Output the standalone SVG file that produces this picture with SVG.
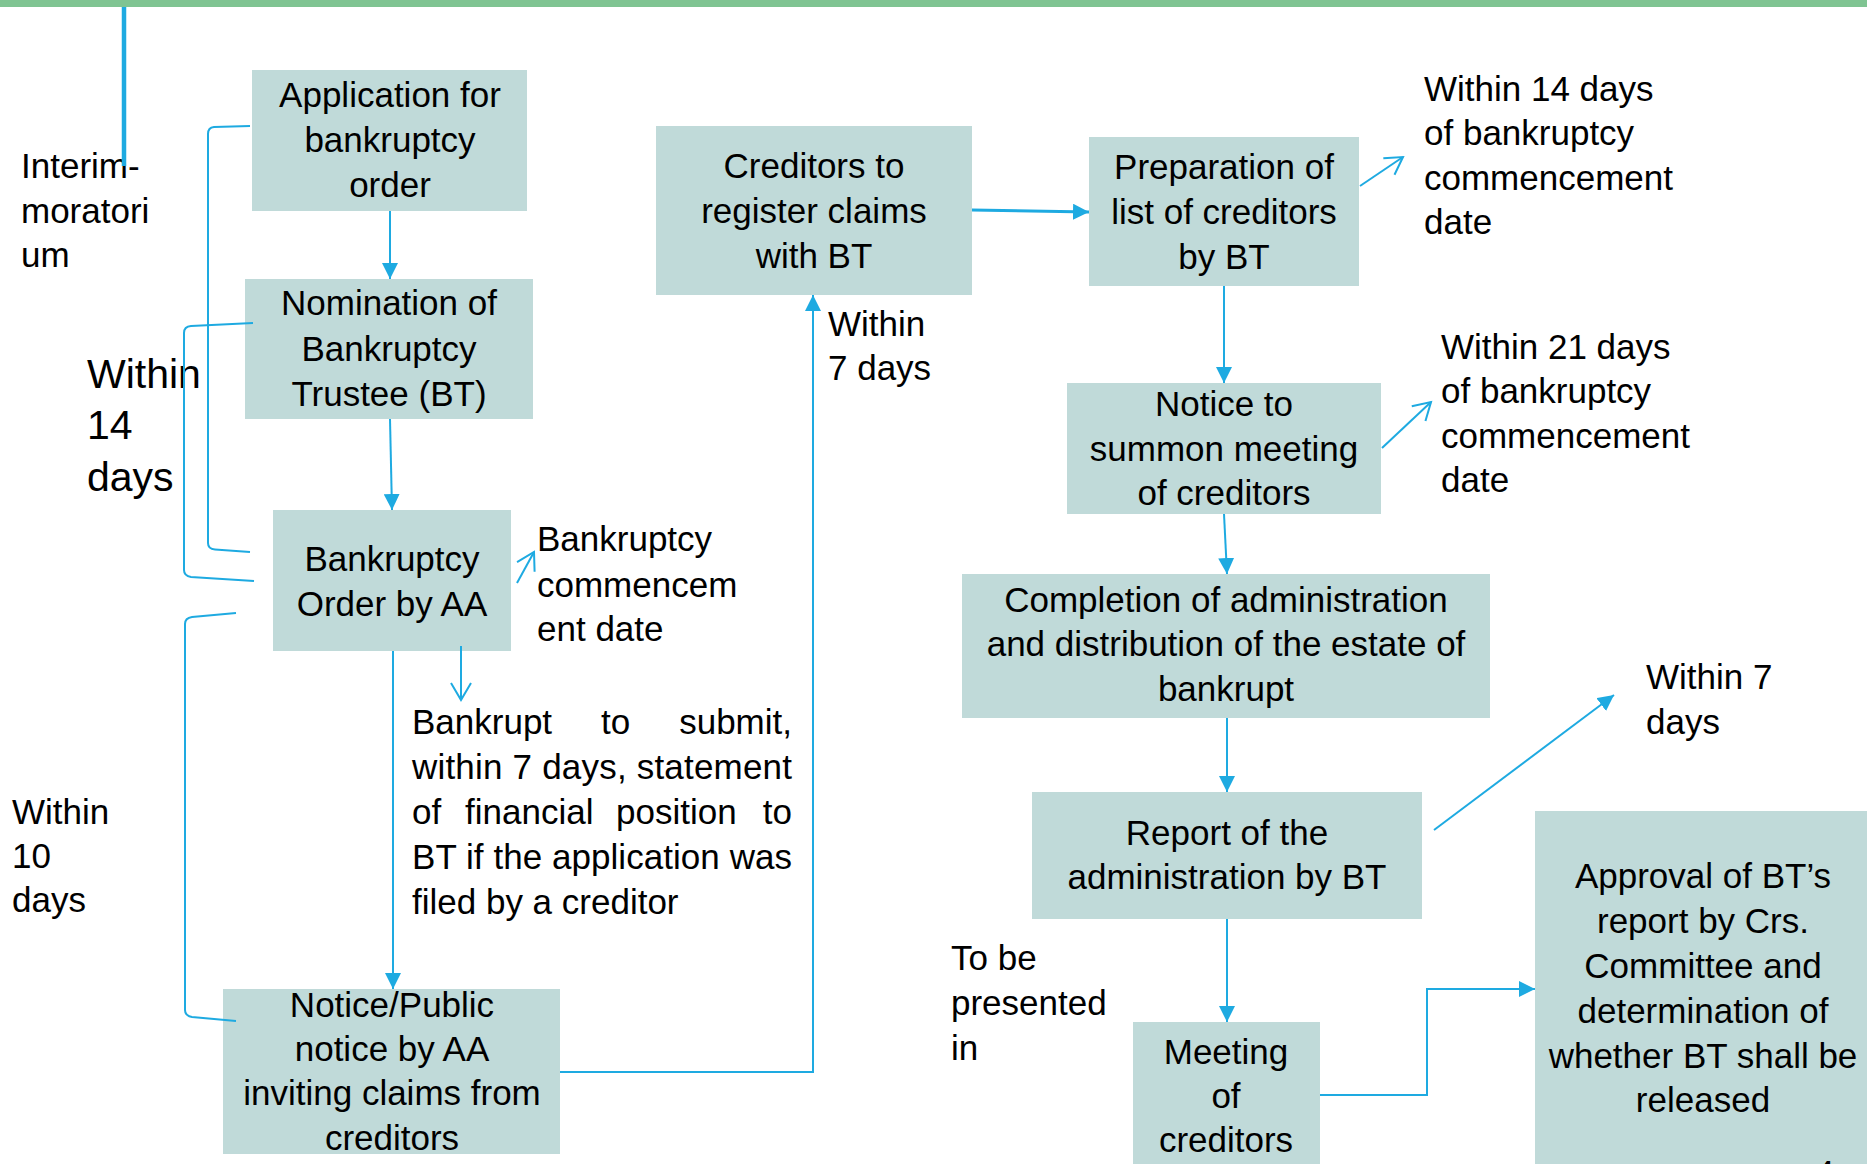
<svg xmlns="http://www.w3.org/2000/svg" width="1867" height="1164" viewBox="0 0 1867 1164">
  <style>
    .box { fill: #C0DAD9; }
    .t { font-family: "Liberation Sans", Arial, sans-serif; font-size: 35px; fill: #000; }
    .big { font-size: 41px; }
    .c { text-anchor: middle; }
    .e { text-anchor: end; }
    .ln { fill: none; stroke: #1EAAE1; stroke-width: 2; }
  </style>
  <defs>
    <marker id="ah" viewBox="0 0 16 16" refX="16" refY="8" markerWidth="16" markerHeight="16" markerUnits="userSpaceOnUse" orient="auto">
      <path d="M0,0 L16,8 L0,16 z" fill="#1EAAE1"/>
    </marker>
    <marker id="oa" viewBox="-2 -2 22 24" refX="17" refY="10" markerWidth="22" markerHeight="24" markerUnits="userSpaceOnUse" orient="auto">
      <path d="M0,0 L17,10 L0,20" fill="none" stroke="#1EAAE1" stroke-width="2"/>
    </marker>
  </defs>

  <!-- header band -->
  <rect x="0" y="0" width="1867" height="7" fill="#7FC492"/>

  <!-- process steps -->
  <g id="n1">
    <rect class="box" x="252" y="70" width="275" height="141"/>
    <text class="t c"><tspan x="390" y="107">Application for</tspan><tspan x="390" y="152">bankruptcy</tspan><tspan x="390" y="197">order</tspan></text>
  </g>
  <g id="n2">
    <rect class="box" x="245" y="279" width="288" height="140"/>
    <text class="t c"><tspan x="389" y="315">Nomination of</tspan><tspan x="389" y="361">Bankruptcy</tspan><tspan x="389" y="406">Trustee (BT)</tspan></text>
  </g>
  <g id="n3">
    <rect class="box" x="273" y="510" width="238" height="141"/>
    <text class="t c"><tspan x="392" y="571">Bankruptcy</tspan><tspan x="392" y="616">Order by AA</tspan></text>
  </g>
  <g id="n4">
    <rect class="box" x="223" y="989" width="337" height="165"/>
    <text class="t c"><tspan x="392" y="1017">Notice/Public</tspan><tspan x="392" y="1061">notice by AA</tspan><tspan x="392" y="1105">inviting claims from</tspan><tspan x="392" y="1150">creditors</tspan></text>
  </g>
  <g id="n5">
    <rect class="box" x="656" y="126" width="316" height="169"/>
    <text class="t c"><tspan x="814" y="178">Creditors to</tspan><tspan x="814" y="223">register claims</tspan><tspan x="814" y="268">with BT</tspan></text>
  </g>
  <g id="n6">
    <rect class="box" x="1089" y="137" width="270" height="149"/>
    <text class="t c"><tspan x="1224" y="179">Preparation of</tspan><tspan x="1224" y="224">list of creditors</tspan><tspan x="1224" y="269">by BT</tspan></text>
  </g>
  <g id="n7">
    <rect class="box" x="1067" y="383" width="314" height="131"/>
    <text class="t c"><tspan x="1224" y="416">Notice to</tspan><tspan x="1224" y="461">summon meeting</tspan><tspan x="1224" y="505">of creditors</tspan></text>
  </g>
  <g id="n8">
    <rect class="box" x="962" y="574" width="528" height="144"/>
    <text class="t c"><tspan x="1226" y="612">Completion of administration</tspan><tspan x="1226" y="656">and distribution of the estate of</tspan><tspan x="1226" y="701">bankrupt</tspan></text>
  </g>
  <g id="n9">
    <rect class="box" x="1032" y="792" width="390" height="127"/>
    <text class="t c"><tspan x="1227" y="845">Report of the</tspan><tspan x="1227" y="889">administration by BT</tspan></text>
  </g>
  <g id="n10">
    <rect class="box" x="1133" y="1022" width="187" height="142"/>
    <text class="t c"><tspan x="1226" y="1064">Meeting</tspan><tspan x="1226" y="1108">of</tspan><tspan x="1226" y="1152">creditors</tspan></text>
  </g>
  <g id="n11">
    <rect class="box" x="1535" y="811" width="332" height="353"/>
    <text class="t c"><tspan x="1703" y="888">Approval of BT’s</tspan><tspan x="1703" y="933">report by Crs.</tspan><tspan x="1703" y="978">Committee and</tspan><tspan x="1703" y="1023">determination of</tspan><tspan x="1703" y="1068">whether BT shall be</tspan><tspan x="1703" y="1112">released</tspan></text>
    <text class="t" x="1815" y="1185" font-size="48">4</text>
  </g>

  <!-- free-standing timing notes -->
  <g id="notes">
    <text class="t"><tspan x="21" y="178">Interim-</tspan><tspan x="21" y="223">moratori</tspan><tspan x="21" y="267">um</tspan></text>
    <text class="t big"><tspan x="87" y="388">Within</tspan><tspan x="87" y="439">14</tspan><tspan x="87" y="491">days</tspan></text>
    <text class="t"><tspan x="12" y="824">Within</tspan><tspan x="12" y="868">10</tspan><tspan x="12" y="912">days</tspan></text>
    <text class="t"><tspan x="537" y="551">Bankruptcy</tspan><tspan x="537" y="597">commencem</tspan><tspan x="537" y="641">ent date</tspan></text>
    <text class="t">
      <tspan x="412" y="734">Bankrupt</tspan><tspan x="601" y="734">to</tspan><tspan x="792" y="734" text-anchor="end">submit,</tspan>
    </text>
    <text class="t" x="412" y="779" textLength="380">within 7 days, statement</text>
    <text class="t">
      <tspan x="412" y="824">of</tspan><tspan x="465" y="824">financial</tspan><tspan x="616" y="824">position</tspan><tspan x="792" y="824" text-anchor="end">to</tspan>
    </text>
    <text class="t" x="412" y="869" textLength="380">BT if the application was</text>
    <text class="t" x="412" y="914">filed by a creditor</text>
    <text class="t"><tspan x="828" y="336">Within</tspan><tspan x="828" y="380">7 days</tspan></text>
    <text class="t"><tspan x="1424" y="101">Within 14 days</tspan><tspan x="1424" y="145">of bankruptcy</tspan><tspan x="1424" y="190">commencement</tspan><tspan x="1424" y="234">date</tspan></text>
    <text class="t"><tspan x="1441" y="359">Within 21 days</tspan><tspan x="1441" y="403">of bankruptcy</tspan><tspan x="1441" y="448">commencement</tspan><tspan x="1441" y="492">date</tspan></text>
    <text class="t"><tspan x="1646" y="689">Within 7</tspan><tspan x="1646" y="734">days</tspan></text>
    <text class="t"><tspan x="951" y="970">To be</tspan><tspan x="951" y="1015">presented</tspan><tspan x="951" y="1060">in</tspan></text>
  </g>

  <!-- connectors -->
  <g id="connectors" class="ln">
    <line x1="124" y1="7" x2="124" y2="166" stroke-width="4.5"/>
    <path d="M250,126 L214,127 Q208,127.5 208,134 L208,543 Q208,549 215,549.5 L250,552"/>
    <path d="M253,323 L191,326 Q184,326.5 184,333 L184,570 Q184,576 191,577 L254,581"/>
    <path d="M236,613 L192,617 Q185,618 185,624 L185,1010 Q185,1016 192,1017 L236,1021"/>
    <path d="M390,211 L390,279" marker-end="url(#ah)"/>
    <path d="M390,419 L392,510" marker-end="url(#ah)"/>
    <path d="M393,651 L393,989" marker-end="url(#ah)"/>
    <path d="M461,646 L461,700" marker-end="url(#oa)"/>
    <path d="M517,583 L534,552" marker-end="url(#oa)"/>
    <path d="M560,1072 L813,1072 L813,295" marker-end="url(#ah)"/>
    <path d="M972,210 L1089,212" stroke-width="3" marker-end="url(#ah)"/>
    <path d="M1224,286 L1224,383" marker-end="url(#ah)"/>
    <path d="M1360,186 L1403,157" marker-end="url(#oa)"/>
    <path d="M1382,448 L1431,402" marker-end="url(#oa)"/>
    <path d="M1224,514 L1227,574" marker-end="url(#ah)"/>
    <path d="M1227,718 L1227,792" marker-end="url(#ah)"/>
    <path d="M1434,830 L1614,695" marker-end="url(#ah)"/>
    <path d="M1227,919 L1227,1022" marker-end="url(#ah)"/>
    <path d="M1320,1095 L1427,1095 L1427,989 L1535,989" marker-end="url(#ah)"/>
  </g>
</svg>
